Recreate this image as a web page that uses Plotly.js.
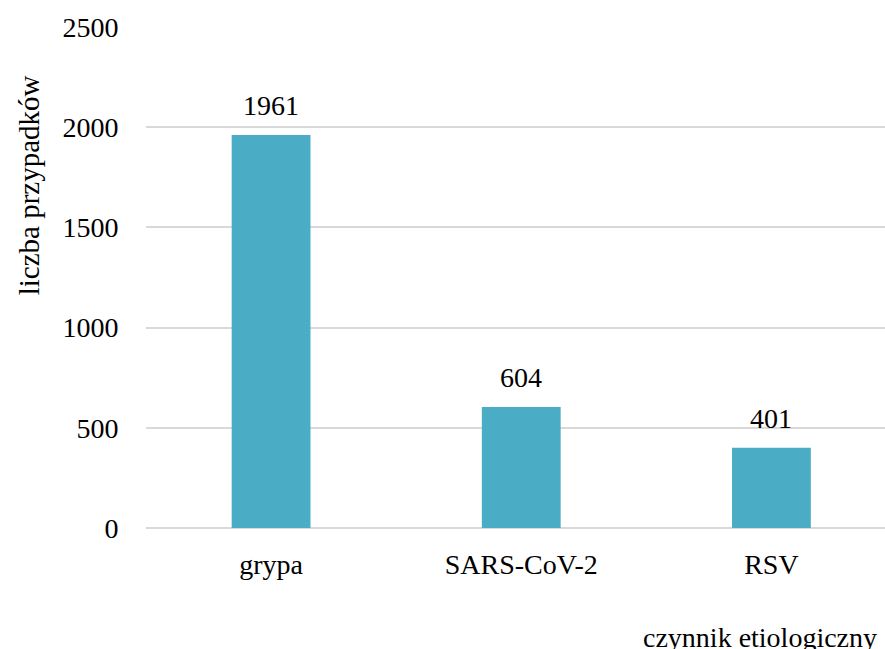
<!DOCTYPE html>
<html>
<head>
<meta charset="utf-8">
<script src="https://cdn.plot.ly/plotly-3.0.1.min.js"></script>
<style>html,body{margin:0;padding:0;background:#fff;}#chart{width:885px;height:649px;}</style>
</head>
<body>
<div id="chart"></div>
<script>
const categories = ["grypa", "SARS-CoV-2", "RSV"];
const values = [1961, 604, 401];
const yTicks = [0, 500, 1000, 1500, 2000, 2500];

const FONT = "Times New Roman, Tinos, Liberation Serif, DejaVu Serif, serif";

const trace = {
  type: "bar",
  x: categories,
  y: values,
  width: 0.315,
  marker: { color: "#4BACC6" },
  hoverinfo: "none"
};

const labelAnnotations = categories.map((c, i) => ({
  x: c, y: values[i], xref: "x", yref: "y",
  text: String(values[i]),
  showarrow: false, yanchor: "bottom", yshift: 12,
  font: { family: FONT, size: 28, color: "#000" }
}));

const layout = {
  width: 885, height: 649,
  margin: { l: 146, r: 0, t: 27, b: 121 },
  paper_bgcolor: "#fff", plot_bgcolor: "#fff",
  showlegend: false,
  font: { family: FONT, size: 28, color: "#000" },
  xaxis: {
    type: "category",
    range: [-0.5, 2.454],
    showgrid: false, zeroline: false, showline: false,
    ticks: "outside", ticklen: 11, tickcolor: "rgba(0,0,0,0)",
    tickfont: { family: FONT, size: 28, color: "#000" }
  },
  yaxis: {
    range: [0, 2500],
    tickvals: yTicks,
    ticktext: yTicks.map(String),
    showgrid: true, gridcolor: "#d9d9d9", gridwidth: 2,
    zeroline: true, zerolinecolor: "#d9d9d9", zerolinewidth: 2,
    showline: false,
    ticks: "outside", ticklen: 21, tickcolor: "rgba(0,0,0,0)",
    tickfont: { family: FONT, size: 28, color: "#000" }
  },
  annotations: labelAnnotations.concat([
    {
      text: "liczba przypadków", xref: "paper", yref: "paper",
      x: -0.159, y: 0.685, xanchor: "center", yanchor: "middle",
      textangle: -90, showarrow: false,
      font: { family: FONT, size: 29, color: "#000" }
    },
    {
      text: "czynnik etiologiczny", xref: "paper", yref: "paper",
      x: 0.67, y: -0.218, xanchor: "left", yanchor: "middle",
      showarrow: false,
      font: { family: FONT, size: 28, color: "#000" }
    }
  ])
};

Plotly.newPlot("chart", [trace], layout, { displayModeBar: false, staticPlot: true });
</script>
</body>
</html>
